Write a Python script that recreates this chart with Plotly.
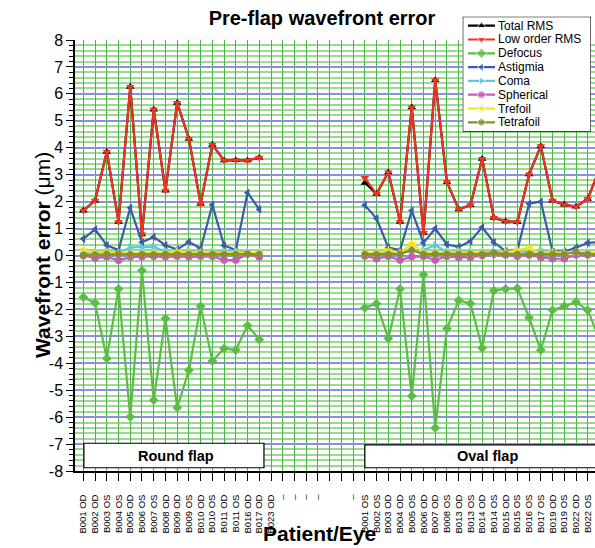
import plotly.graph_objects as go

# ---------------- data ----------------
left_labels = ["B001 OD", "B002 OD", "B003 OS", "B004 OS", "B005 OD", "B006 OS", "B007 OS",
               "B008 OD", "B009 OD", "B009 OS", "B010 OD", "B010 OS", "B011 OD", "B011 OS",
               "B016 OD", "B017 OD", "B023 OD"]
gap_labels = ["–", "–", "–", "–", "", "", "–"]
right_labels = ["B001 OS", "B002 OS", "B003 OD", "B004 OD", "B005 OS", "B006 OD", "B007 OD",
                "B008 OS", "B013 OD", "B013 OS", "B014 OD", "B014 OS", "B015 OD", "B015 OS",
                "B016 OS", "B017 OS", "B019 OD", "B019 OS", "B022 OD", "B022 OS", ""]
categories = left_labels + gap_labels + right_labels

# Round flap values (B001 OD .. B017 OD; B023 OD has no value)
total_rms_round = [1.67, 2.04, 3.85, 1.25, 6.26, 0.78, 5.42, 2.41, 5.67, 4.33, 1.92, 4.11, 3.53, 3.54, 3.53, 3.63, None]
low_rms_round = [1.67, 2.04, 3.85, 1.25, 6.26, 0.78, 5.42, 2.41, 5.67, 4.33, 1.92, 4.11, 3.53, 3.54, 3.53, 3.63, None]
defocus_round = [-1.55, -1.76, -3.82, -1.24, -5.99, -0.56, -5.37, -2.34, -5.65, -4.26, -1.88, -3.92, -3.45, -3.51, -2.60, -3.12, None]
astig_round = [0.62, 0.97, 0.38, 0.20, 1.77, 0.49, 0.69, 0.38, 0.22, 0.51, 0.26, 1.88, 0.37, 0.20, 2.33, 1.71, None]
coma_round = [0.12, 0.10, 0.15, 0.08, 0.30, 0.30, 0.32, 0.15, 0.12, 0.18, 0.10, 0.12, 0.15, 0.18, 0.10, 0.08, None]
spher_round = [0.00, -0.10, -0.05, -0.18, -0.06, -0.05, -0.03, -0.05, -0.03, -0.05, -0.03, -0.03, -0.17, -0.17, 0.05, -0.06, None]
tref_round = [0.20, 0.10, 0.12, 0.10, 0.08, 0.10, 0.12, 0.10, 0.15, 0.12, 0.10, 0.08, 0.10, 0.12, 0.08, 0.10, None]
tetra_round = [0.02, 0.03, 0.05, 0.06, 0.05, 0.05, 0.04, 0.05, 0.05, 0.05, 0.05, 0.05, 0.05, 0.05, 0.06, 0.05, None]

gap = [None] * len(gap_labels)

# Oval flap values (B001 OS .. B022 OS, plus the next eye just past the edge)
total_rms_oval = [2.70, 2.29, 3.09, 1.25, 5.50, 0.84, 6.51, 2.72, 1.71, 1.87, 3.59, 1.40, 1.27, 1.24, 3.01, 4.06, 2.04, 1.89, 1.81, 2.10, 3.20]
low_rms_oval = [2.88, 2.29, 3.09, 1.25, 5.50, 0.84, 6.51, 2.72, 1.71, 1.87, 3.59, 1.40, 1.27, 1.24, 3.01, 4.06, 2.04, 1.89, 1.81, 2.10, 3.20]
defocus_oval = [-1.94, -1.79, -3.08, -1.24, -5.22, -0.71, -6.40, -2.71, -1.67, -1.78, -3.43, -1.30, -1.24, -1.22, -2.31, -3.51, -2.03, -1.88, -1.73, -2.03, -3.10]
astig_oval = [1.87, 1.37, 0.29, 0.20, 1.67, 0.47, 1.00, 0.41, 0.32, 0.53, 1.05, 0.49, 0.16, 0.20, 1.92, 2.00, 0.15, 0.15, 0.29, 0.47, 0.50]
coma_oval = [0.10, 0.10, 0.12, 0.10, 0.15, 0.20, 0.38, 0.12, 0.18, 0.12, 0.10, 0.15, 0.10, 0.18, 0.12, 0.20, 0.10, 0.12, 0.10, 0.10, 0.10]
spher_oval = [-0.02, -0.12, -0.03, -0.17, -0.05, -0.03, -0.17, -0.03, -0.07, -0.07, 0.00, 0.05, 0.02, -0.03, 0.02, -0.07, -0.12, -0.12, 0.02, 0.02, 0.00]
tref_oval = [0.08, 0.10, 0.20, 0.10, 0.44, 0.12, 0.10, 0.10, 0.12, 0.08, 0.10, 0.08, 0.12, 0.20, 0.27, 0.10, 0.12, 0.10, 0.12, 0.10, 0.10]
tetra_oval = [0.05, 0.04, 0.05, 0.06, 0.20, 0.05, 0.06, 0.06, 0.05, 0.05, 0.05, 0.10, 0.05, 0.05, 0.06, 0.05, 0.05, 0.05, 0.12, 0.05, 0.05]

series_names = ["Total RMS", "Low order RMS", "Defocus", "Astigmia", "Coma", "Spherical", "Trefoil", "Tetrafoil"]
series_values = [
    total_rms_round + gap + total_rms_oval,
    low_rms_round + gap + low_rms_oval,
    defocus_round + gap + defocus_oval,
    astig_round + gap + astig_oval,
    coma_round + gap + coma_oval,
    spher_round + gap + spher_oval,
    tref_round + gap + tref_oval,
    tetra_round + gap + tetra_oval,
]

y_tick_vals = list(range(-8, 9))
y_tick_text = [str(v) for v in y_tick_vals]

# ---------------- styles ----------------
colors = ["#000000", "#EE3322", "#5DBB46", "#3C5AAA", "#5BC8E8", "#C45DB5", "#F2E514", "#8C8C32"]
symbols = ["triangle-up", "triangle-down", "diamond", "triangle-left", "triangle-right",
           "circle", "star", "hexagon"]
FONT = "Liberation Sans, Arial, sans-serif"

x_pos = list(range(len(categories)))

fig = go.Figure()
for name, vals, col, sym in zip(series_names, series_values, colors, symbols):
    fig.add_trace(go.Scatter(
        x=x_pos, y=vals, mode="lines+markers", name=name,
        line=dict(color=col, width=2.2),
        marker=dict(symbol=sym, size=7.5, color=col),
        showlegend=False, connectgaps=False,
    ))

# custom legend (compact rows) on an invisible overlay subplot
n = len(series_names)
leg_y_range = [n - 0.32, -0.65]
for i, (name, col, sym) in enumerate(zip(series_names, colors, symbols)):
    fig.add_trace(go.Scatter(
        x=[0.041, 0.1465, 0.252], y=[i, i, i], xaxis="x2", yaxis="y2",
        mode="lines+markers", line=dict(color=col, width=2.2),
        marker=dict(symbol=sym, size=[0, 8, 0], color=col),
        showlegend=False, hoverinfo="skip",
    ))
    fig.add_annotation(xref="x2", yref="y2", x=0.262, y=i, text=name, showarrow=False,
                       xanchor="left", yanchor="middle",
                       font=dict(family=FONT, size=12, color="black"))

plot_top, plot_bot, fig_h, m_t, m_b = 40, 471, 548, 10, 77
paper_h = fig_h - m_t - m_b

def py(p):  # pixel y -> paper y
    return (plot_bot - p) / paper_h

def px(p):  # pixel x -> paper x
    return (p - 75) / 520.0

fig.update_layout(
    width=595, height=548,
    margin=dict(l=75, r=0, t=m_t, b=m_b),
    paper_bgcolor="white", plot_bgcolor="white",
    font=dict(family=FONT, color="black"),
    title=dict(text="<b>Pre-flap wavefront error</b>", x=322 / 595, y=1 - 18 / 548,
               xanchor="center", yanchor="middle", font=dict(size=20, family=FONT)),
    xaxis=dict(
        range=[-0.71, 43.62], tickmode="array", tickvals=x_pos[:44], ticktext=categories[:44],
        tickangle=-90, tickfont=dict(size=9.5, family=FONT, color="black"), ticks="outside", ticklen=8,
        tickcolor="black", tickwidth=1.2, showline=True, linecolor="black", linewidth=1.5,
        showgrid=True, gridcolor="#4DB447", gridwidth=1, zeroline=False,
        ticklabelstandoff=10, automargin=False,
    ),
    yaxis=dict(
        domain=[0, (plot_bot - plot_top) / paper_h], range=[-8, 8],
        tickmode="array", tickvals=y_tick_vals, ticktext=y_tick_text,
        tickfont=dict(size=16, family=FONT), ticks="outside", ticklen=7, tickcolor="black",
        tickwidth=1.2, showline=True, linecolor="black", linewidth=1.5,
        showgrid=True, gridcolor="#8595D3", gridwidth=1.5, zeroline=False, automargin=False,
        minor=dict(dtick=0.2, ticks="outside", ticklen=4, tickcolor="black", tickwidth=1,
                   showgrid=True, gridcolor="#9ADB92", gridwidth=1.6),
    ),
    xaxis2=dict(domain=[px(462.7), px(591)], range=[0, 1], visible=False, anchor="y2"),
    yaxis2=dict(domain=[py(131.7), py(16.7)], range=leg_y_range, visible=False, anchor="x2"),
)

# legend frame (drawn in the legend subplot, beneath its sample traces)
fig.add_shape(type="rect", xref="x2", yref="y2", x0=0, x1=1, y0=leg_y_range[1], y1=leg_y_range[0],
              fillcolor="white", line=dict(color="black", width=1.2), layer="between")

# group boxes
fig.add_shape(type="rect", xref="x", yref="y", x0=0.05, x1=15.4, y0=-7.88, y1=-6.97,
              fillcolor="white", line=dict(color="black", width=1.2), layer="above")
fig.add_shape(type="rect", xref="x", yref="y", x0=24.0, x1=60, y0=-7.88, y1=-7.03,
              fillcolor="white", line=dict(color="black", width=1.2), layer="above")
fig.add_annotation(xref="x", yref="y", x=7.9, y=-7.43, text="<b>Round flap</b>", showarrow=False,
                   font=dict(size=14.5, family=FONT, color="black"))
fig.add_annotation(xref="x", yref="y", x=34.45, y=-7.46, text="<b>Oval flap</b>", showarrow=False,
                   font=dict(size=14.5, family=FONT, color="black"))

# axis titles
fig.add_annotation(xref="paper", yref="paper", x=px(42), y=py(255),
                   text="<b>Wavefront error</b> (μm)", textangle=-90, showarrow=False,
                   xanchor="center", yanchor="middle", font=dict(size=21, family=FONT, color="black"))
fig.add_annotation(xref="paper", yref="paper", x=px(319.5), y=py(533),
                   text="<b>Patient/Eye</b>", showarrow=False,
                   xanchor="center", yanchor="middle", font=dict(size=21, family=FONT, color="black"))

fig.write_html("out.html", config={"displayModeBar": False},
               post_script="document.body.style.margin='0';document.body.style.overflow='hidden';")
